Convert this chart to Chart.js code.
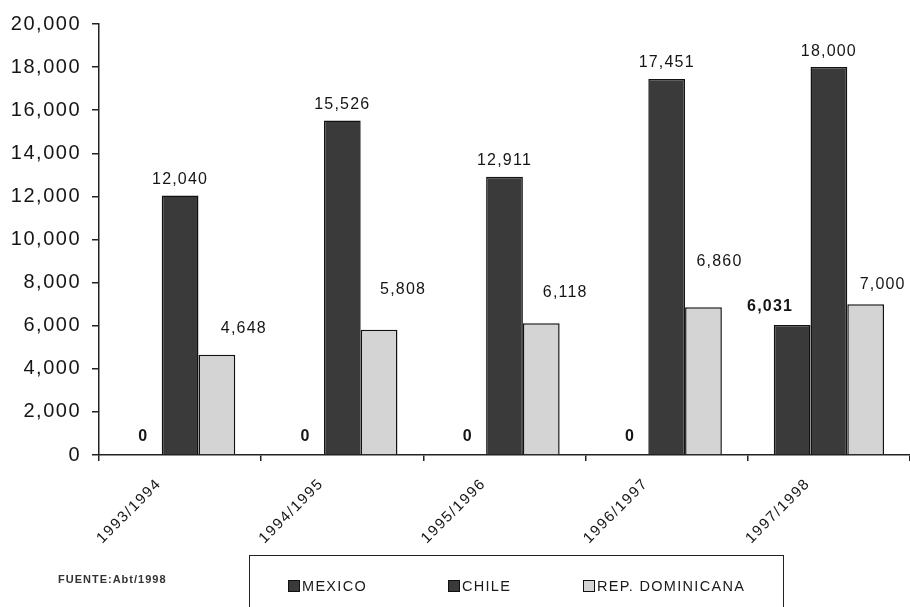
<!DOCTYPE html>
<html>
<head>
<meta charset="utf-8">
<script src="https://cdn.jsdelivr.net/npm/chart.js@4.4.1/dist/chart.umd.min.js"></script>
<style>
  html, body { margin: 0; padding: 0; background: #fff; }
  #wrap { position: relative; width: 910px; height: 607px; overflow: hidden; }
  #chart { position: absolute; left: 0; top: 0; }
  #fuente { position: absolute; left: 58px; top: 573px; font: bold 11px "Liberation Sans", Arial, sans-serif; letter-spacing: 1px; color: #333; }
  #legend { position: absolute; left: 249px; top: 555px; width: 535px; height: 70px; border: 1.5px solid #222; box-sizing: border-box; }
  #legend .item { position: absolute; top: 22px; font: 14.5px "Liberation Sans", Arial, sans-serif; letter-spacing: 1.3px; color: #1a1a1a; white-space: nowrap; }
  #legend .sw { display: inline-block; width: 12px; height: 12px; border: 1px solid #111; box-sizing: border-box; margin-right: 2px; vertical-align: -1px; }
</style>
</head>
<body>
<div id="wrap">
  <canvas id="chart" width="910" height="607"></canvas>
  <div id="fuente">FUENTE:Abt/1998</div>
  <div id="legend"></div>
</div>
<script>
// seasons and values per country
var seasons = ['1993/1994', '1994/1995', '1995/1996', '1996/1997', '1997/1998'];
var mexico = [0, 0, 0, 0, 6031];
var chile = [12040, 15526, 12911, 17451, 18000];
var repDominicana = [4648, 5808, 6118, 6860, 7000];
var seriesNames = ['MEXICO', 'CHILE', 'REP. DOMINICANA'];

var DARK = '#3a3a3a';
var LIGHT = '#d4d4d4';
var FONT = '"Liberation Sans", Arial, sans-serif';

// where each value label sits relative to the top of its bar
var labelStyle = [
  { weight: 'bold', dx: [0, 0, 0, 0, -22], dy: [18, 18, 18, 18, 18] },
  { weight: 'normal', dx: [0, 0, 0, 0, 0], dy: [16, 16, 16, 16, 16] },
  { weight: 'normal', dx: [27, 24, 24, 16, 17], dy: [26, 40, 31, 46, 20] }
];

function fmt(v) {
  return v.toLocaleString('en-US');
}

var spacing = {
  id: 'spacing',
  beforeDraw: function(chart) { chart.ctx.letterSpacing = '1.5px'; },
  afterDraw: function(chart) { chart.ctx.letterSpacing = '0px'; }
};

var valueLabels = {
  id: 'valueLabels',
  afterDatasetsDraw: function(chart) {
    var ctx = chart.ctx;
    ctx.save();
    ctx.fillStyle = '#151515';
    ctx.textAlign = 'center';
    ctx.textBaseline = 'middle';
    ctx.letterSpacing = '1.2px';
    chart.data.datasets.forEach(function(ds, di) {
      var st = labelStyle[di];
      ctx.font = st.weight + ' 16px ' + FONT;
      chart.getDatasetMeta(di).data.forEach(function(bar, i) {
        ctx.fillText(fmt(ds.data[i]), bar.x + st.dx[i], bar.y - st.dy[i]);
      });
    });
    ctx.restore();
  }
};

var ctx = document.getElementById('chart').getContext('2d');
var chart = new Chart(ctx, {
  type: 'bar',
  data: {
    labels: seasons,
    datasets: [
      { label: seriesNames[0], data: mexico, backgroundColor: DARK },
      { label: seriesNames[1], data: chile, backgroundColor: DARK },
      { label: seriesNames[2], data: repDominicana, backgroundColor: LIGHT }
    ]
  },
  options: {
    responsive: false,
    animation: false,
    devicePixelRatio: 1,
    layout: { padding: { top: 24, left: 0, right: 0, bottom: 0 } },
    datasets: {
      bar: {
        borderColor: '#111',
        borderWidth: 1.5,
        barPercentage: 1,
        categoryPercentage: 0.68
      }
    },
    plugins: {
      legend: { display: false },
      tooltip: { enabled: false }
    },
    scales: {
      x: {
        afterFit: function(s) { s.height = 152; },
        grid: { display: true, drawOnChartArea: false, drawTicks: true, tickLength: 6, color: '#222', lineWidth: 1.5 },
        border: { display: true, color: '#222', width: 1.5 },
        ticks: {
          color: '#151515',
          font: { family: FONT, size: 15 },
          maxRotation: 45,
          minRotation: 45,
          padding: 14,
          labelOffset: -21
        }
      },
      y: {
        min: 0,
        max: 20000,
        afterFit: function(s) { s.width = 99; },
        grid: { display: true, drawOnChartArea: false, drawTicks: true, tickLength: 7, color: '#222', lineWidth: 1.5 },
        border: { display: true, color: '#222', width: 1.5 },
        ticks: {
          stepSize: 2000,
          color: '#151515',
          font: { family: FONT, size: 20 },
          padding: 11,
          callback: function(v) { return fmt(v); }
        }
      }
    }
  },
  plugins: [spacing, valueLabels]
});

// legend row below the plot
var legend = document.getElementById('legend');
var legendLeft = [38, 198, 333];
chart.data.datasets.forEach(function(ds, i) {
  var item = document.createElement('div');
  item.className = 'item';
  item.style.left = legendLeft[i] + 'px';
  item.innerHTML = '<span class="sw" style="background:' + ds.backgroundColor + '"></span>' + ds.label;
  legend.appendChild(item);
});
</script>
</body>
</html>
